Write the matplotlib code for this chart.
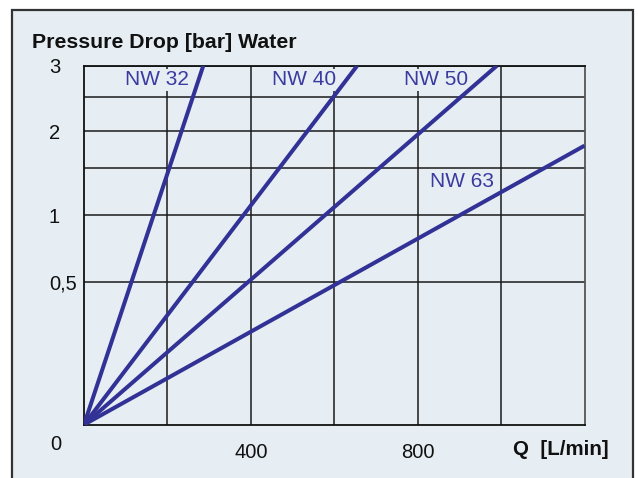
#!/usr/bin/env python3
import numpy as np
import matplotlib
matplotlib.use("Agg")
import matplotlib.pyplot as plt
from matplotlib.patches import Rectangle

# y scale of the printed chart (pressure -> height fraction)
SCALE_P = [0.0, 0.5, 1.0, 1.5, 2.0, 2.5, 3.0]
SCALE_F = [0.0, 0.3967, 0.5841, 0.7159, 0.8181, 0.9136, 1.0]

# each curve: flow [L/min] and pressure drop [bar] at start and end
names = ["NW 32", "NW 40", "NW 50", "NW 63"]
flow = [[0, 286], [0, 655], [0, 990], [0, 1200]]
dp = [[0, 3.0], [0, 3.0], [0, 3.0], [0, 1.8]]

# label positions (x in L/min, y as axes fraction)
label_x = [175, 527, 843, 906]
label_y = [0.961, 0.961, 0.961, 0.677]

x_ticks = [200, 400, 600, 800, 1000]
x_labels = ["", "400", "", "800", ""]
y_ticks = [0.5, 1.0, 1.5, 2.0, 2.5, 3.0]
y_labels = ["0,5", "1", "", "2", "", "3"]

BG = "#e6eef3"
LINE = "#323296"
TXT = "#3a3aa0"

plt.rcParams["font.family"] = ["Liberation Sans", "DejaVu Sans"]


def fwd(v):
    return np.interp(v, SCALE_P, SCALE_F)


def inv(f):
    return np.interp(f, SCALE_F, SCALE_P)


def make_chart():
    fig = plt.figure(figsize=(6.38, 4.78), dpi=100)
    fig.patch.set_facecolor("white")

    # outer panel
    panel = Rectangle((11.7 / 638, -0.02), (632.7 - 11.7) / 638, 1 - 10 / 478 + 0.02,
                      transform=fig.transFigure, facecolor=BG, edgecolor="#333333",
                      linewidth=1.6, zorder=-1)
    fig.patches.append(panel)

    ax = fig.add_axes([84 / 638, 1 - 424.7 / 478, 500.5 / 638, 359 / 478])
    ax.set_facecolor("none")
    ax.set_yscale("function", functions=(fwd, inv))
    ax.set_xlim(0, 1200)
    ax.set_ylim(0, 3)

    for q, p in zip(flow, dp):
        ax.plot(q, p, color=LINE, linewidth=2.9, solid_capstyle="butt", zorder=4)

    for name, lx, ly in zip(names, label_x, label_y):
        box = None
        if ly > 0.9:
            box = dict(boxstyle="square,pad=0.08", facecolor=BG, edgecolor="none")
        ax.text(lx, ly, name, transform=ax.get_xaxis_transform(), ha="center",
                va="center", fontsize=15, color=TXT, bbox=box, zorder=2.2)

    ax.set_xticks(x_ticks)
    ax.set_xticklabels(x_labels)
    ax.set_yticks(y_ticks)
    ax.set_yticklabels(y_labels)
    ax.yaxis.set_minor_locator(plt.NullLocator())
    ax.tick_params(axis="both", length=0, labelsize=14.5, labelcolor="#111111")
    ax.tick_params(axis="x", pad=13.5)
    ax.tick_params(axis="y", pad=25.2)
    for lab in ax.get_yticklabels():
        lab.set_ha("left")

    ax.set_axisbelow(True)
    ax.grid(True, color="#1a1a1a", linewidth=1.1)
    for side in ["left", "bottom", "top"]:
        ax.spines[side].set_color("#111111")
        ax.spines[side].set_linewidth(1.3)
    ax.spines["right"].set_color("#555555")
    ax.spines["right"].set_linewidth(1.3)

    # origin label and axis titles
    ax.text(-0.056, -0.054, "0", transform=ax.transAxes, ha="center", va="center",
            fontsize=14.5, color="#111111")
    fig.text(32.5 / 638, 1 - 47.7 / 478, "Pressure Drop [bar] Water", fontsize=15.3,
             fontweight="bold", va="baseline", ha="left", color="#111111")
    fig.text(513 / 638, 1 - 455 / 478, "Q  [L/min]", fontsize=14.8,
             fontweight="bold", va="baseline", ha="left", color="#111111")

    fig.savefig("out.png", dpi=100, facecolor=fig.get_facecolor())
    plt.close(fig)


if __name__ == "__main__":
    make_chart()
